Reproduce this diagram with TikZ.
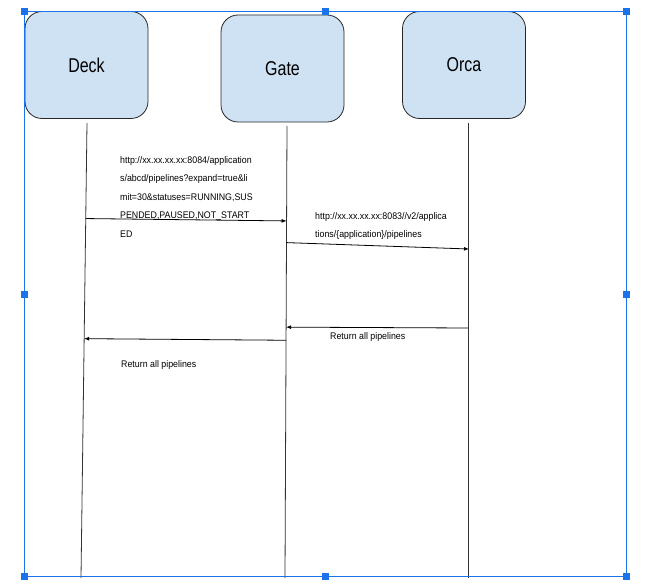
\documentclass[tikz,border=0pt]{standalone}
\usepackage{fontspec}
\setmainfont{Liberation Sans}
\newfontfamily\narrowsans[FakeStretch=0.8]{Liberation Sans}
\newfontfamily\msgsans[FakeStretch=0.92]{Liberation Sans}
\usepackage{tikz}
\usetikzlibrary{arrows.meta,positioning,calc}
\definecolor{actorblue}{HTML}{CFE2F3}
\definecolor{selblue}{HTML}{1A73E8}
\definecolor{lifegray}{HTML}{333333}

\begin{document}
\begin{tikzpicture}[
  x=1pt,y=-1pt,
  actor/.style={rectangle,rounded corners=17pt,draw=black!85,fill=actorblue,
    line width=0.8pt,minimum width=123pt,minimum height=107pt,
    font=\narrowsans\fontsize{20}{22}\selectfont},
  life/.style={draw=lifegray,line width=0.8pt},
  msg/.style={-{Latex[length=5pt,width=4pt]},draw=black,line width=0.8pt},
  msgtext/.style={inner sep=0pt,align=left,
    font=\msgsans\fontsize{9.6}{18.5}\selectfont},
  handle/.style={rectangle,fill=selblue,minimum size=7pt,inner sep=0pt},
]
  \useasboundingbox (0,0) rectangle (648,588);
  % actors
  \node[actor] (deck) at (86.5,65) {\raisebox{-2pt}{Deck}};
  \node[actor] (gate) at (282.5,68.5) {\raisebox{-2pt}{Gate}};
  \node[actor] (orca) at (464,65) {\raisebox{-2pt}{Orca}};
  % lifelines
  \coordinate (deck-top) at (87,123);
  \coordinate (deck-end) at (81,578);
  \coordinate (gate-top) at (287,126);
  \coordinate (gate-end) at (285,578);
  \coordinate (orca-top) at (468,123);
  \coordinate (orca-end) at (468,578);
  \draw[life] (deck-top) -- (deck-end);
  \draw[life] (gate-top) -- (gate-end);
  \draw[life] (orca-top) -- (orca-end);
  % messages
  \coordinate (m1s) at ($(deck-top)!0.21!(deck-end)$);
  \coordinate (m1e) at ($(gate-top)!0.21!(gate-end)$);
  \coordinate (m2s) at ($(gate-top)!0.258!(gate-end)$);
  \coordinate (m2e) at (469,249);
  \coordinate (m3s) at (468,328);
  \coordinate (m3e) at ($(gate-top)!0.445!(gate-end)$);
  \coordinate (m4s) at ($(gate-top)!0.474!(gate-end)$);
  \coordinate (m4e) at ($(deck-top)!0.474!(deck-end)$);
  \draw[msg] (m1s) -- (m1e);
  \draw[msg] (m2s) -- (m2e);
  \draw[msg] (m3s) -- (m3e);
  \draw[msg] (m4s) -- (m4e);
  \node[msgtext,anchor=north west] (l1) at (120,156) {http://xx.xx.xx.xx:8084/application\\
    s/abcd/pipelines?expand=true\&li\\mit=30\&statuses=RUNNING,SUS\\
    PENDED,PAUSED,NOT\_START\\ED};
  \node[msgtext,anchor=north west] (l2) at (315,212) {http://xx.xx.xx.xx:8083//v2/applica\\
    tions/\{application\}/pipelines};
  \node[msgtext,anchor=west] (l3) at (330,337) {Return all pipelines};
  \node[msgtext,anchor=west] (l4) at (121,365) {Return all pipelines};
  % selection frame
  \draw[selblue,line width=1pt] (24,12) rectangle (626,576);
  \foreach \hx/\hy in {24/12,325/12,626/12,24/294,626/294,24/576,325/576,626/576}
    \node[handle] at (\hx,\hy) {};
\end{tikzpicture}
\end{document}
